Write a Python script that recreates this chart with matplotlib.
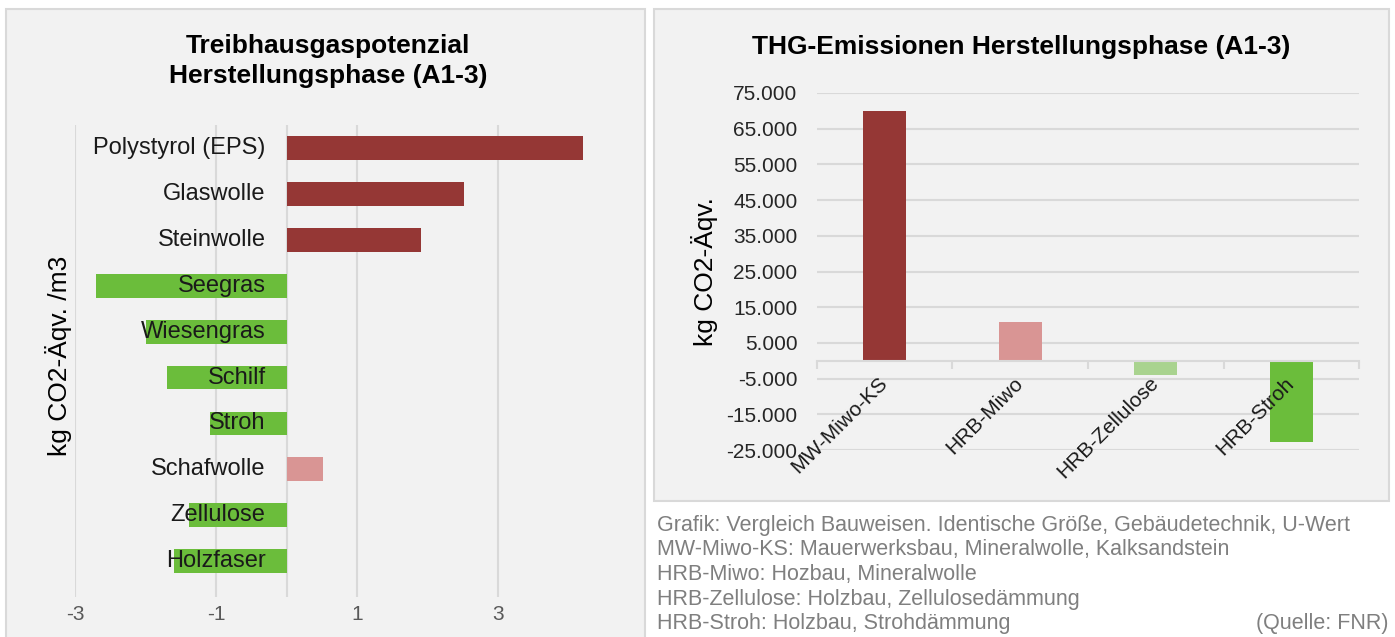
import matplotlib.pyplot as plt
from matplotlib.patches import Rectangle
from matplotlib.transforms import offset_copy

plt.rcParams['font.family'] = ['Liberation Sans', 'DejaVu Sans']
plt.rcParams['axes.unicode_minus'] = False

# left chart: kg CO2-eq per m3
materials = ['Polystyrol (EPS)', 'Glaswolle', 'Steinwolle', 'Seegras', 'Wiesengras',
             'Schilf', 'Stroh', 'Schafwolle', 'Zellulose', 'Holzfaser']
gwp = [4.21, 2.51, 1.91, -2.70, -1.99, -1.69, -1.09, 0.51, -1.39, -1.59]

# right chart: building variants
variants = ['MW-Miwo-KS', 'HRB-Miwo', 'HRB-Zellulose', 'HRB-Stroh']
emissions = [70000, 10800, -3900, -22700]

notes = ['Grafik: Vergleich Bauweisen. Identische Größe, Gebäudetechnik, U-Wert',
         'MW-Miwo-KS: Mauerwerksbau, Mineralwolle, Kalksandstein',
         'HRB-Miwo: Hozbau, Mineralwolle',
         'HRB-Zellulose: Holzbau, Zellulosedämmung',
         'HRB-Stroh: Holzbau, Strohdämmung']

DARK_RED = '#953735'
PINK = '#D99594'
GREEN = '#6BBD3B'
LIGHT_GREEN = '#A9D38F'
BG = '#F2F2F2'
GRID = '#D9D9D9'

W, H = 1395, 637
fig = plt.figure(figsize=(W / 100, H / 100), dpi=100)


def px(x0, y0, x1, y1):
    # pixel box (top-left origin) -> figure fraction rect
    return [x0 / W, 1 - y1 / H, (x1 - x0) / W, (y1 - y0) / H]


# panel backgrounds
fig.patches.append(Rectangle((6 / W, -0.05), 639 / W, 1 - 9 / H + 0.05, transform=fig.transFigure,
                             facecolor=BG, edgecolor=GRID, lw=1.5, zorder=-10))
fig.patches.append(Rectangle((654 / W, 1 - 501 / H), 735 / W, 492 / H, transform=fig.transFigure,
                             facecolor=BG, edgecolor=GRID, lw=1.5, zorder=-10))

# ---- left chart ----
ax1 = fig.add_axes(px(75, 125, 611, 597))
ax1.set_facecolor('none')
cols1 = [DARK_RED if v > 0 else GREEN for v in gwp]
cols1[materials.index('Schafwolle')] = PINK
ax1.barh(range(len(materials)), gwp, height=0.52, color=cols1, zorder=1)
ax1.set_xlim(-3, 4.6)
ax1.set_ylim(9.78, -0.5)
ax1.set_xticks([-3, -1, 1, 3])
ax1.set_yticks([])
ax1.axvline(0, color=GRID, lw=1.5, zorder=0)
for s in ax1.spines.values():
    s.set_visible(False)
ax1.grid(axis='x', color=GRID, lw=1.5, zorder=0)
ax1.set_axisbelow(True)
ax1.tick_params(axis='x', length=0, pad=6, labelsize=15, labelcolor='#595959')
# category labels sit left of the zero line, drawn over the bars
lab_tr = offset_copy(ax1.transData, fig=fig, x=-21, y=0, units='dots')
for i, name in enumerate(materials):
    ax1.text(0, i, name, transform=lab_tr, ha='right', va='center', fontsize=17,
             color='#1a1a1a', zorder=5)

fig.text(328 / W, 1 - 46 / H, 'Treibhausgaspotenzial', ha='center', va='center',
         fontsize=19, fontweight='bold')
fig.text(328 / W, 1 - 76 / H, 'Herstellungsphase (A1-3)', ha='center', va='center',
         fontsize=19, fontweight='bold')
fig.text(58 / W, 1 - 356 / H, 'kg CO2-Äqv. /m3', rotation=90, ha='center', va='center',
         fontsize=19)

# ---- right chart ----
ax2 = fig.add_axes(px(817, 93, 1359, 450))
ax2.set_facecolor('none')
ax2.bar(range(len(variants)), emissions, width=0.32,
        color=[DARK_RED, PINK, LIGHT_GREEN, GREEN], zorder=2)
ax2.set_xlim(-0.5, 3.5)
ax2.set_ylim(-25000, 75000)
ax2.set_yticks(range(-25000, 75001, 10000))
ax2.set_yticklabels([f'{v:,}'.replace(',', '.') for v in range(-25000, 75001, 10000)])
ax2.grid(axis='y', color=GRID, lw=1.5, zorder=0)
ax2.set_axisbelow(True)
for s in ['top', 'right', 'left']:
    ax2.spines[s].set_visible(False)
ax2.spines['bottom'].set_position(('data', 0))
ax2.spines['bottom'].set_color(GRID)
ax2.spines['bottom'].set_linewidth(1.5)
ax2.set_xticks([-0.5, 0.5, 1.5, 2.5, 3.5])
ax2.set_xticklabels([])
ax2.tick_params(axis='x', length=6, width=1.5, color=GRID, direction='out')
ax2.tick_params(axis='y', length=0, pad=14, labelsize=15, labelcolor='#262626')
cat_tr = offset_copy(ax2.transData, fig=fig, x=0, y=-19.5, units='dots')
for i, name in enumerate(variants):
    ax2.text(i, 0, name, transform=cat_tr, rotation=45, ha='right', va='center',
             rotation_mode='anchor', fontsize=15, color='#1a1a1a', zorder=5)

fig.text(1021 / W, 1 - 47 / H, 'THG-Emissionen Herstellungsphase (A1-3)', ha='center', va='center',
         fontsize=19, fontweight='bold')
fig.text(705 / W, 1 - 272 / H, 'kg CO2-Äqv.', rotation=90, ha='center', va='center', fontsize=19)

# notes under the right chart
for i, line in enumerate(notes):
    fig.text(657 / W, 1 - (525 + i * 24.7) / H, line, ha='left', va='center',
             fontsize=15.5, color='#7F7F7F')
fig.text(1388 / W, 1 - 624 / H, '(Quelle: FNR)', ha='right', va='center',
         fontsize=15.5, color='#7F7F7F')

fig.savefig('out.png', dpi=100, facecolor='white')
